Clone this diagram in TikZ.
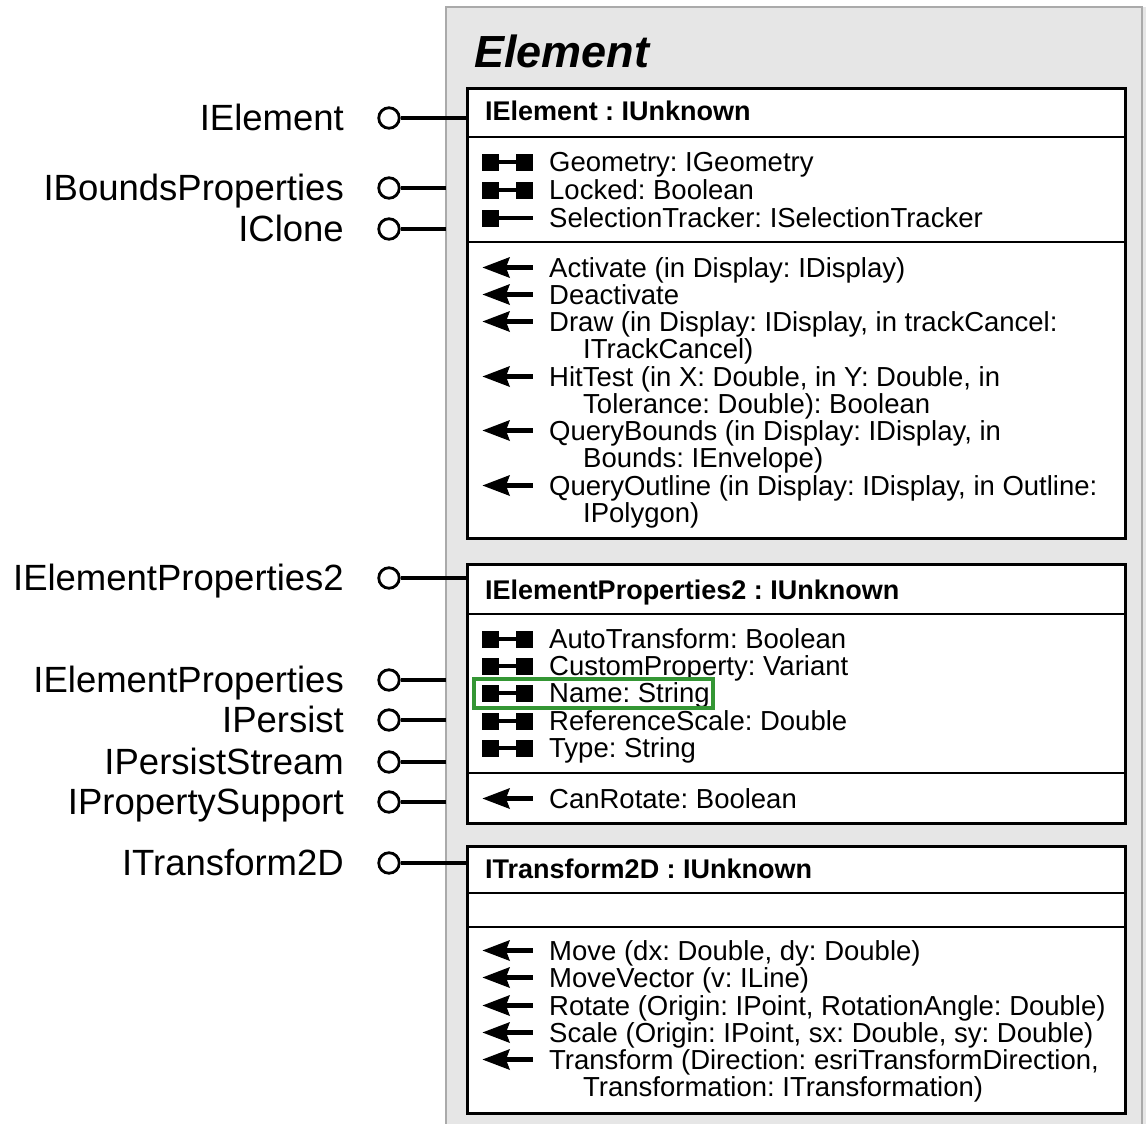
\documentclass[tikz,border=0pt]{standalone}
\usepackage{fontspec}
\setmainfont{Liberation Sans}
\frenchspacing
\definecolor{panelfill}{RGB}{230,230,230}
\definecolor{paneledge}{RGB}{170,170,170}
\definecolor{marker}{RGB}{52,150,52}
\begin{document}
\begin{tikzpicture}[x=1pt,y=-1pt,
  lolli/.style={circle,draw,line width=2.8pt,fill=white,minimum size=20.5pt,inner sep=0pt},
  wire/.style={line width=3.5pt},
  ifacebox/.style={draw,line width=3.2pt,fill=white,anchor=north west,minimum width=658pt,inner sep=0pt},
  divider/.style={line width=1.4pt},
  lbl/.style={anchor=base east,inner sep=0pt,font=\fontsize{36.5}{36.5}\selectfont},
  hdr/.style={anchor=base west,inner sep=0pt,font=\fontsize{27}{27}\selectfont\bfseries},
  item/.style={anchor=base west,inner sep=0pt,font=\fontsize{27.5}{27.5}\selectfont},
  propicon/.pic={
    \fill (-25,-8.5) rectangle (-8,8.5);
    \fill (9,-8.5) rectangle (26,8.5);
    \draw[line width=3.4pt] (-8,0) -- (9,0);
  },
  refpropicon/.pic={
    \fill (-25,-8.5) rectangle (-8,8.5);
    \draw[line width=3.8pt] (-8,0) -- (26,0);
  },
  methicon/.pic={
    \fill (-24.5,0) -- (3,-10.5) -- (-1,0) -- (3,10.5) -- cycle;
    \draw[line width=4.2pt] (-2,0) -- (26,0);
  }]
\useasboundingbox (0,0) rectangle (1146,1124);

% class panel
\fill[panelfill] (446,7) rectangle (1146,1130);
\draw[paneledge,line width=1.5pt] (446,1130) -- (446,7) -- (1142,7) -- (1142,1130);
\node[anchor=base west,inner sep=0pt,font=\fontsize{45}{45}\selectfont\bfseries\itshape] (title) at (474,67) {Element};

% interface boxes
\node[ifacebox,minimum height=450pt] (box1) at (466,87) {};
\draw[divider] (466,137) -- (1124,137);
\draw[divider] (466,242) -- (1124,242);
\node[ifacebox,minimum height=259pt] (box2) at (466,563) {};
\draw[divider] (466,614) -- (1124,614);
\draw[divider] (466,773) -- (1124,773);
\node[ifacebox,minimum height=267pt] (box3) at (466,845) {};
\draw[divider] (466,893) -- (1124,893);
\draw[divider] (466,927) -- (1124,927);

% IElement
\node[hdr] (h1) at (485,121) {IElement : IUnknown};
\pic at (507,162) {propicon};
\node[item] (p11) at (549,171) {Geometry: IGeometry};
\pic at (507,190) {propicon};
\node[item] (p12) at (549,199) {Locked: Boolean};
\pic at (507,218) {refpropicon};
\node[item] (p13) at (549,227) {SelectionTracker: ISelectionTracker};
\pic at (507,267.5) {methicon};
\node[item] (m11) at (549,277) {Activate (in Display: IDisplay)};
\pic at (507,294.5) {methicon};
\node[item] (m12) at (549,304) {Deactivate};
\pic at (507,321.5) {methicon};
\node[item] (m13) at (549,331) {Draw (in Display: IDisplay, in trackCancel:};
\node[item] (m13b) at (583,358) {ITrackCancel)};
\pic at (507,376.5) {methicon};
\node[item] (m14) at (549,386) {HitTest (in X: Double, in Y: Double, in};
\node[item] (m14b) at (583,413) {Tolerance: Double): Boolean};
\pic at (507,430.5) {methicon};
\node[item] (m15) at (549,440) {QueryBounds (in Display: IDisplay, in};
\node[item] (m15b) at (583,467) {Bounds: IEnvelope)};
\pic at (507,485.5) {methicon};
\node[item] (m16) at (549,495) {QueryOutline (in Display: IDisplay, in Outline:};
\node[item] (m16b) at (583,522) {IPolygon)};

% IElementProperties2
\node[hdr] (h2) at (485,599) {IElementProperties2 : IUnknown};
\pic at (507,639) {propicon};
\node[item] (p21) at (549,648) {AutoTransform: Boolean};
\pic at (507,666) {propicon};
\node[item] (p22) at (549,675) {CustomProperty: Variant};
\pic at (507,693) {propicon};
\node[item] (p23) at (549,702) {Name: String};
\pic at (507,721) {propicon};
\node[item] (p24) at (549,730) {ReferenceScale: Double};
\pic at (507,748) {propicon};
\node[item] (p25) at (549,757) {Type: String};
\pic at (507,798.5) {methicon};
\node[item] (m21) at (549,808) {CanRotate: Boolean};
\draw[marker,line width=3.2pt] (474,679) rectangle (713,708);

% ITransform2D
\node[hdr] (h3) at (485,878) {ITransform2D : IUnknown};
\pic at (507,950.5) {methicon};
\node[item] (m31) at (549,960) {Move (dx: Double, dy: Double)};
\pic at (507,977.5) {methicon};
\node[item] (m32) at (549,987) {MoveVector (v: ILine)};
\pic at (507,1005.5) {methicon};
\node[item] (m33) at (549,1015) {Rotate (Origin: IPoint, RotationAngle: Double)};
\pic at (507,1032.5) {methicon};
\node[item] (m34) at (549,1042) {Scale (Origin: IPoint, sx: Double, sy: Double)};
\pic at (507,1059.5) {methicon};
\node[item] (m35) at (549,1069) {Transform (Direction: esriTransformDirection,};
\node[item] (m35b) at (583,1096) {Transformation: ITransformation)};

% lollipop interfaces
\coordinate (edgeA) at (446,188);
\coordinate (edgeB) at (446,229);
\coordinate (edgeC) at (446,680);
\coordinate (edgeD) at (446,720);
\coordinate (edgeE) at (446,762);
\coordinate (edgeF) at (446,802);

\node[lolli] (c1) at (389,118) {};
\node[lolli] (c2) at (389,188) {};
\node[lolli] (c3) at (389,229) {};
\node[lolli] (c4) at (389,578) {};
\node[lolli] (c5) at (389,680) {};
\node[lolli] (c6) at (389,720) {};
\node[lolli] (c7) at (389,762) {};
\node[lolli] (c8) at (389,802) {};
\node[lolli] (c9) at (389,863) {};

\draw[wire] (c1.east) -- (c1 -| box1.west);
\draw[wire] (c2.east) -- (edgeA);
\draw[wire] (c3.east) -- (edgeB);
\draw[wire] (c4.east) -- (c4 -| box2.west);
\draw[wire] (c5.east) -- (edgeC);
\draw[wire] (c6.east) -- (edgeD);
\draw[wire] (c7.east) -- (edgeE);
\draw[wire] (c8.east) -- (edgeF);
\draw[wire] (c9.east) -- (c9 -| box3.west);

\node[lbl] (l1) at (344,130) {IElement};
\node[lbl] (l2) at (344,200) {IBoundsProperties};
\node[lbl] (l3) at (344,241) {IClone};
\node[lbl] (l4) at (344,590) {IElementProperties2};
\node[lbl] (l5) at (344,692) {IElementProperties};
\node[lbl] (l6) at (344,732) {IPersist};
\node[lbl] (l7) at (344,774) {IPersistStream};
\node[lbl] (l8) at (344,814) {IPropertySupport};
\node[lbl] (l9) at (344,875) {ITransform2D};
\end{tikzpicture}
\end{document}
